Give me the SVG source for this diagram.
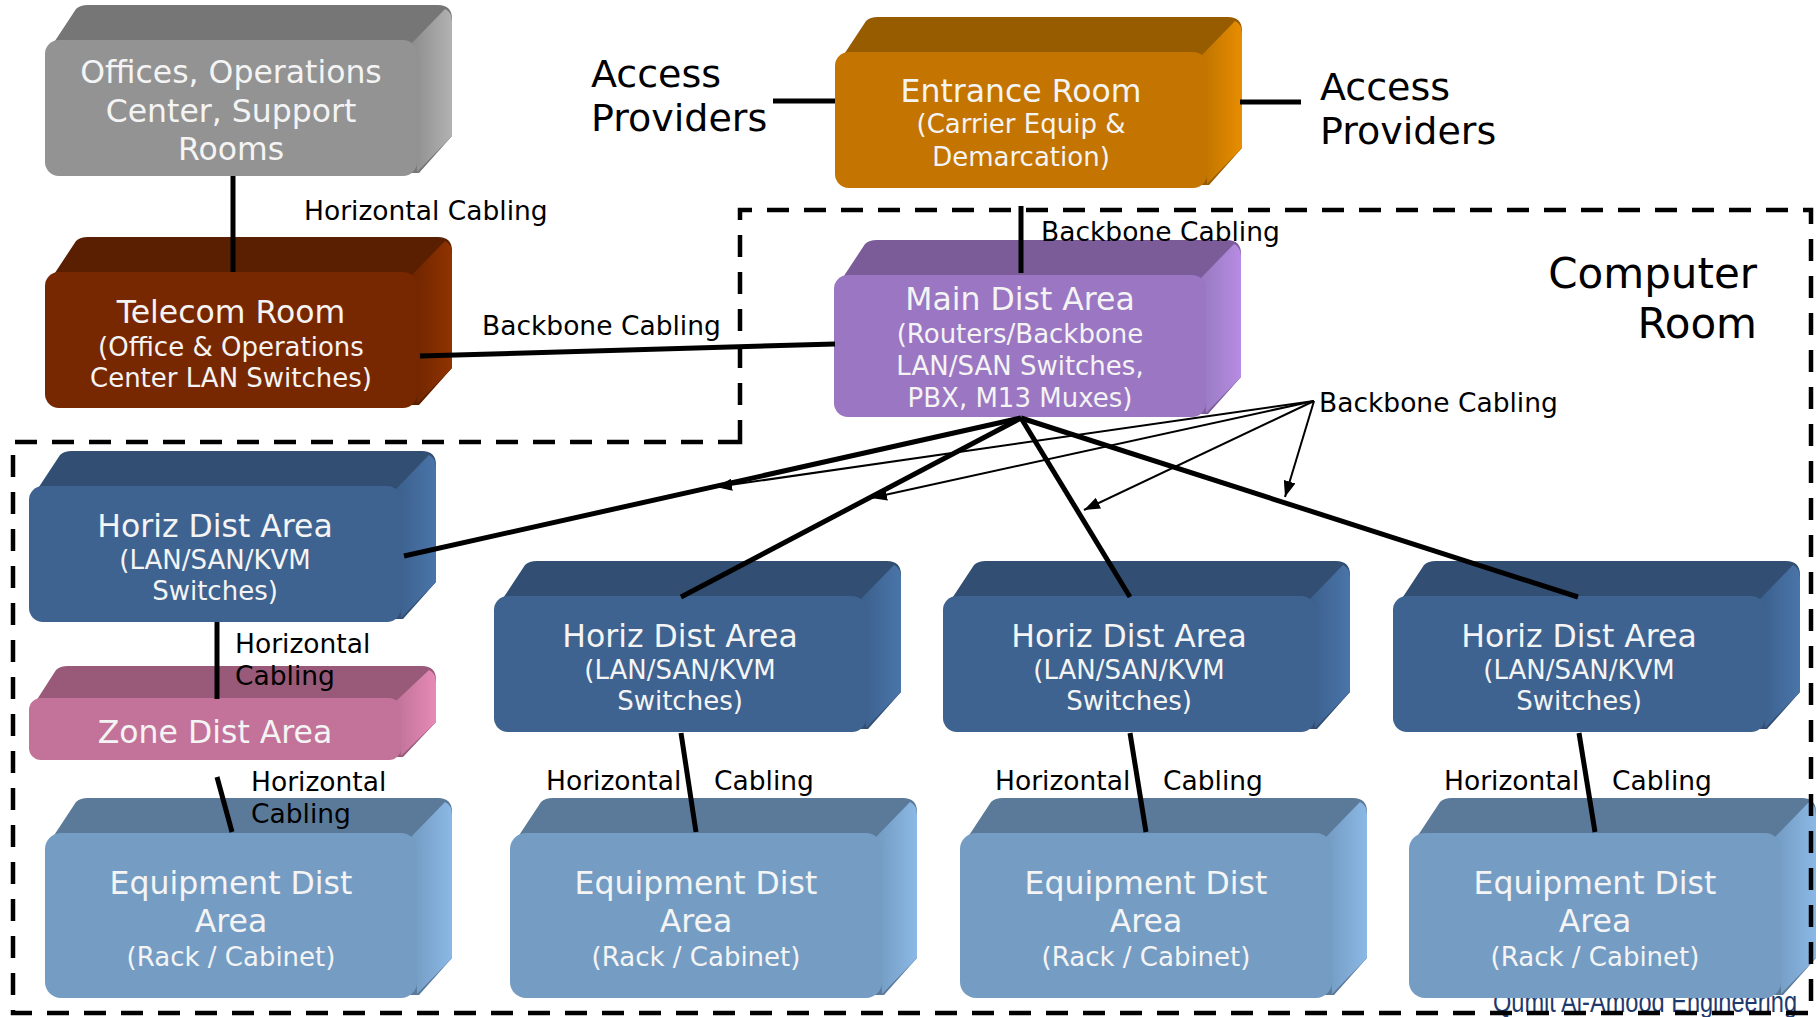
<svg xmlns="http://www.w3.org/2000/svg" width="1818" height="1017" viewBox="0 0 1818 1017">
<style>
.nt{font-family:"DejaVu Sans","Liberation Sans",sans-serif;fill:#f4f4f4;text-anchor:middle}
.t1{font-size:31.5px}
.t2{font-size:26px}
.lbl{font-family:"DejaVu Sans","Liberation Sans",sans-serif;font-size:26.5px;fill:#000}
.big{font-family:"DejaVu Sans","Liberation Sans",sans-serif;font-size:38px;fill:#000}
.huge{font-family:"DejaVu Sans","Liberation Sans",sans-serif;font-size:42px;fill:#000;text-anchor:end}
.thick{stroke:#000;stroke-width:5;fill:none}
.thin{stroke:#000;stroke-width:2;fill:none;marker-end:url(#ah)}
.border{stroke:#000;stroke-width:4.5;fill:none;stroke-dasharray:22 15}
.gray .top{fill:#767676}.gray .side{fill:url(#gGray)}.gray .front{fill:#939393}
.brown .top{fill:#5a1f00}.brown .side{fill:url(#gBrown)}.brown .front{fill:#782800}
.orange .top{fill:#975c00}.orange .side{fill:url(#gOrange)}.orange .front{fill:#c47400}
.purple .top{fill:#7b5b98}.purple .side{fill:url(#gPurple)}.purple .front{fill:#9b76c2}
.blue .top{fill:#324e72}.blue .side{fill:url(#gBlue)}.blue .front{fill:#3e6390}
.pink .top{fill:#985a78}.pink .side{fill:url(#gPink)}.pink .front{fill:#c37399}
.light .top{fill:#5b7a99}.light .side{fill:url(#gLight)}.light .front{fill:#759dc4}
</style>
<defs>
<linearGradient id="gGray" x1="0" x2="1" y1="0" y2="0"><stop offset="0" stop-color="#8c8c8c"/><stop offset="1" stop-color="#b2b2b2"/></linearGradient>
<linearGradient id="gBrown" x1="0" x2="1" y1="0" y2="0"><stop offset="0" stop-color="#6e2500"/><stop offset="1" stop-color="#903300"/></linearGradient>
<linearGradient id="gOrange" x1="0" x2="1" y1="0" y2="0"><stop offset="0" stop-color="#bd7300"/><stop offset="1" stop-color="#e88d00"/></linearGradient>
<linearGradient id="gPurple" x1="0" x2="1" y1="0" y2="0"><stop offset="0" stop-color="#967abf"/><stop offset="1" stop-color="#b78be3"/></linearGradient>
<linearGradient id="gBlue" x1="0" x2="1" y1="0" y2="0"><stop offset="0" stop-color="#3b5f8c"/><stop offset="1" stop-color="#4a75a9"/></linearGradient>
<linearGradient id="gPink" x1="0" x2="1" y1="0" y2="0"><stop offset="0" stop-color="#bf7298"/><stop offset="1" stop-color="#e68ab6"/></linearGradient>
<linearGradient id="gLight" x1="0" x2="1" y1="0" y2="0"><stop offset="0" stop-color="#739bc2"/><stop offset="1" stop-color="#8bb8e5"/></linearGradient>
<marker id="ah" markerUnits="userSpaceOnUse" markerWidth="18" markerHeight="12" refX="16" refY="6" orient="auto"><path d="M0,0 L16,6 L0,12 Z" fill="#000"/></marker>
</defs>

<text x="1493" y="1012" font-family="Liberation Sans, sans-serif" font-size="30" fill="#1f3a6e" textLength="304" lengthAdjust="spacingAndGlyphs">Qumit Al-Amood Engineering</text>

<g id="offices" class="gray" transform="translate(45,40)">
<path class="top" d="M0,16 L31,-31 Q35,-35 43,-35 L393,-35 Q407,-35 407,-21 L407,96 L374,133 L358,133 L358,10 L10,10 Z"/>
<path class="side" d="M366,4 L400,-31 Q407,-28 407,-18 L407,96 L372,132 Z"/>
<rect class="front" x="0" y="0" width="372" height="136" rx="14"/>
<text class="nt t1" x="186" y="43">Offices, Operations</text>
<text class="nt t1" x="186" y="82">Center, Support</text>
<text class="nt t1" x="186" y="120">Rooms</text>
</g>

<g id="telecom" class="brown" transform="translate(45,272)">
<path class="top" d="M0,16 L31,-31 Q35,-35 43,-35 L393,-35 Q407,-35 407,-21 L407,96 L374,133 L358,133 L358,10 L10,10 Z"/>
<path class="side" d="M366,4 L400,-31 Q407,-28 407,-18 L407,96 L372,132 Z"/>
<rect class="front" x="0" y="0" width="372" height="136" rx="14"/>
<text class="nt t1" x="186" y="51">Telecom Room</text>
<text class="nt t2" x="186" y="84">(Office &amp; Operations</text>
<text class="nt t2" x="186" y="115">Center LAN Switches)</text>
</g>

<g id="entrance" class="orange" transform="translate(835,52)">
<path class="top" d="M0,16 L31,-31 Q35,-35 43,-35 L393,-35 Q407,-35 407,-21 L407,96 L374,133 L358,133 L358,10 L10,10 Z"/>
<path class="side" d="M366,4 L400,-31 Q407,-28 407,-18 L407,96 L372,132 Z"/>
<rect class="front" x="0" y="0" width="372" height="136" rx="14"/>
<text class="nt t1" x="186" y="50">Entrance Room</text>
<text class="nt t2" x="186" y="81">(Carrier Equip &amp;</text>
<text class="nt t2" x="186" y="114">Demarcation)</text>
</g>

<g id="mda" class="purple" transform="translate(834,275)">
<path class="top" d="M0,16 L31,-31 Q35,-35 43,-35 L393,-35 Q407,-35 407,-21 L407,102 L374,139 L358,139 L358,10 L10,10 Z"/>
<path class="side" d="M366,4 L400,-31 Q407,-28 407,-18 L407,102 L372,138 Z"/>
<rect class="front" x="0" y="0" width="372" height="142" rx="14"/>
<text class="nt t1" x="186" y="35">Main Dist Area</text>
<text class="nt t2" x="186" y="68">(Routers/Backbone</text>
<text class="nt t2" x="186" y="100">LAN/SAN Switches,</text>
<text class="nt t2" x="186" y="132">PBX, M13 Muxes)</text>
</g>

<g id="hda1" class="blue" transform="translate(29,486)">
<path class="top" d="M0,16 L31,-31 Q35,-35 43,-35 L393,-35 Q407,-35 407,-21 L407,96 L374,133 L358,133 L358,10 L10,10 Z"/>
<path class="side" d="M366,4 L400,-31 Q407,-28 407,-18 L407,96 L372,132 Z"/>
<rect class="front" x="0" y="0" width="372" height="136" rx="14"/>
<text class="nt t1" x="186" y="51">Horiz Dist Area</text>
<text class="nt t2" x="186" y="83">(LAN/SAN/KVM</text>
<text class="nt t2" x="186" y="114">Switches)</text>
</g>

<g id="zone" class="pink" transform="translate(29,698)">
<path class="top" d="M0,14 L27,-28 Q31,-32 39,-32 L393,-32 Q407,-32 407,-18 L407,24 L374,59 L358,59 L358,10 L10,10 Z"/>
<path class="side" d="M366,4 L400,-28 Q407,-25 407,-15 L407,24 L372,58 Z"/>
<rect class="front" x="0" y="0" width="372" height="62" rx="12"/>
<text class="nt t1" x="186" y="45">Zone Dist Area</text>
</g>

<g id="eda1" class="light" transform="translate(45,833)">
<path class="top" d="M0,16 L31,-31 Q35,-35 43,-35 L393,-35 Q407,-35 407,-21 L407,125 L374,162 L358,162 L358,10 L10,10 Z"/>
<path class="side" d="M366,4 L400,-31 Q407,-28 407,-18 L407,125 L372,161 Z"/>
<rect class="front" x="0" y="0" width="372" height="165" rx="16"/>
<text class="nt t1" x="186" y="61">Equipment Dist</text>
<text class="nt t1" x="186" y="99">Area</text>
<text class="nt t2" x="186" y="133">(Rack / Cabinet)</text>
</g>

<g id="hda2" class="blue" transform="translate(494,596)">
<path class="top" d="M0,16 L31,-31 Q35,-35 43,-35 L393,-35 Q407,-35 407,-21 L407,96 L374,133 L358,133 L358,10 L10,10 Z"/>
<path class="side" d="M366,4 L400,-31 Q407,-28 407,-18 L407,96 L372,132 Z"/>
<rect class="front" x="0" y="0" width="372" height="136" rx="14"/>
<text class="nt t1" x="186" y="51">Horiz Dist Area</text>
<text class="nt t2" x="186" y="83">(LAN/SAN/KVM</text>
<text class="nt t2" x="186" y="114">Switches)</text>
</g>

<g id="hda3" class="blue" transform="translate(943,596)">
<path class="top" d="M0,16 L31,-31 Q35,-35 43,-35 L393,-35 Q407,-35 407,-21 L407,96 L374,133 L358,133 L358,10 L10,10 Z"/>
<path class="side" d="M366,4 L400,-31 Q407,-28 407,-18 L407,96 L372,132 Z"/>
<rect class="front" x="0" y="0" width="372" height="136" rx="14"/>
<text class="nt t1" x="186" y="51">Horiz Dist Area</text>
<text class="nt t2" x="186" y="83">(LAN/SAN/KVM</text>
<text class="nt t2" x="186" y="114">Switches)</text>
</g>

<g id="hda4" class="blue" transform="translate(1393,596)">
<path class="top" d="M0,16 L31,-31 Q35,-35 43,-35 L393,-35 Q407,-35 407,-21 L407,96 L374,133 L358,133 L358,10 L10,10 Z"/>
<path class="side" d="M366,4 L400,-31 Q407,-28 407,-18 L407,96 L372,132 Z"/>
<rect class="front" x="0" y="0" width="372" height="136" rx="14"/>
<text class="nt t1" x="186" y="51">Horiz Dist Area</text>
<text class="nt t2" x="186" y="83">(LAN/SAN/KVM</text>
<text class="nt t2" x="186" y="114">Switches)</text>
</g>

<g id="eda2" class="light" transform="translate(510,833)">
<path class="top" d="M0,16 L31,-31 Q35,-35 43,-35 L393,-35 Q407,-35 407,-21 L407,125 L374,162 L358,162 L358,10 L10,10 Z"/>
<path class="side" d="M366,4 L400,-31 Q407,-28 407,-18 L407,125 L372,161 Z"/>
<rect class="front" x="0" y="0" width="372" height="165" rx="16"/>
<text class="nt t1" x="186" y="61">Equipment Dist</text>
<text class="nt t1" x="186" y="99">Area</text>
<text class="nt t2" x="186" y="133">(Rack / Cabinet)</text>
</g>

<g id="eda3" class="light" transform="translate(960,833)">
<path class="top" d="M0,16 L31,-31 Q35,-35 43,-35 L393,-35 Q407,-35 407,-21 L407,125 L374,162 L358,162 L358,10 L10,10 Z"/>
<path class="side" d="M366,4 L400,-31 Q407,-28 407,-18 L407,125 L372,161 Z"/>
<rect class="front" x="0" y="0" width="372" height="165" rx="16"/>
<text class="nt t1" x="186" y="61">Equipment Dist</text>
<text class="nt t1" x="186" y="99">Area</text>
<text class="nt t2" x="186" y="133">(Rack / Cabinet)</text>
</g>

<g id="eda4" class="light" transform="translate(1409,833)">
<path class="top" d="M0,16 L31,-31 Q35,-35 43,-35 L393,-35 Q407,-35 407,-21 L407,125 L374,162 L358,162 L358,10 L10,10 Z"/>
<path class="side" d="M366,4 L400,-31 Q407,-28 407,-18 L407,125 L372,161 Z"/>
<rect class="front" x="0" y="0" width="372" height="165" rx="16"/>
<text class="nt t1" x="186" y="61">Equipment Dist</text>
<text class="nt t1" x="186" y="99">Area</text>
<text class="nt t2" x="186" y="133">(Rack / Cabinet)</text>
</g>

<path id="computer-room" class="border" d="M740,442 L13,442 L13,1013 L1811,1013 L1811,210 L740,210 Z"/>

<g id="connectors">
<line class="thick" x1="233" y1="176" x2="233" y2="272"/>
<line class="thick" x1="420" y1="356" x2="835" y2="344"/>
<line class="thick" x1="773" y1="101" x2="835" y2="101"/>
<line class="thick" x1="1240" y1="102" x2="1301" y2="102"/>
<line class="thick" x1="1021" y1="206" x2="1021" y2="273"/>
<line class="thick" x1="1021" y1="418" x2="404" y2="556"/>
<line class="thick" x1="1021" y1="418" x2="681" y2="597"/>
<line class="thick" x1="1021" y1="418" x2="1130" y2="597"/>
<line class="thick" x1="1021" y1="418" x2="1578" y2="597"/>
<line class="thick" x1="217" y1="622" x2="217" y2="699"/>
<line class="thick" x1="217" y1="777" x2="232" y2="832"/>
<line class="thick" x1="681" y1="733" x2="696" y2="832"/>
<line class="thick" x1="1130" y1="733" x2="1146" y2="832"/>
<line class="thick" x1="1579" y1="733" x2="1595" y2="832"/>
<line class="thin" x1="1314" y1="401" x2="716" y2="487"/>
<line class="thin" x1="1314" y1="401" x2="871" y2="498"/>
<line class="thin" x1="1314" y1="401" x2="1084" y2="510"/>
<line class="thin" x1="1314" y1="401" x2="1285" y2="497"/>
</g>

<g id="labels">
<text class="big" x="591" y="87">Access</text>
<text class="big" x="591" y="131">Providers</text>
<text class="big" x="1320" y="100">Access</text>
<text class="big" x="1320" y="144">Providers</text>
<text class="huge" x="1757" y="288">Computer</text>
<text class="huge" x="1757" y="338">Room</text>
<text class="lbl" x="304" y="220">Horizontal Cabling</text>
<text class="lbl" x="482" y="335">Backbone Cabling</text>
<text class="lbl" x="1041" y="241">Backbone Cabling</text>
<text class="lbl" x="1319" y="412">Backbone Cabling</text>
<text class="lbl" x="235" y="653">Horizontal</text>
<text class="lbl" x="235" y="685">Cabling</text>
<text class="lbl" x="251" y="791">Horizontal</text>
<text class="lbl" x="251" y="823">Cabling</text>
<text class="lbl" x="546" y="790">Horizontal</text>
<text class="lbl" x="714" y="790">Cabling</text>
<text class="lbl" x="995" y="790">Horizontal</text>
<text class="lbl" x="1163" y="790">Cabling</text>
<text class="lbl" x="1444" y="790">Horizontal</text>
<text class="lbl" x="1612" y="790">Cabling</text>
</g>
</svg>
